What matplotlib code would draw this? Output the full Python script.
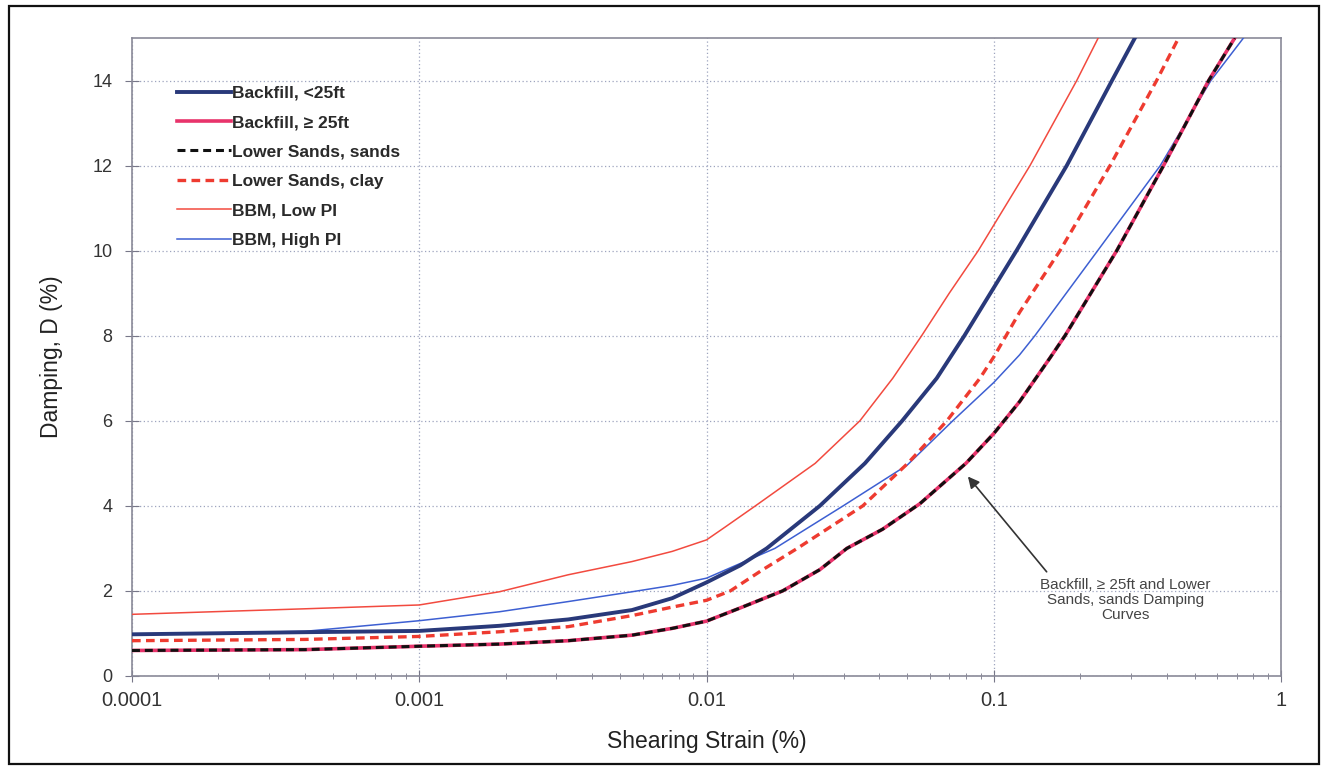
import matplotlib
matplotlib.use("Agg")
import matplotlib.pyplot as plt
from matplotlib.lines import Line2D
from matplotlib.patches import Rectangle
from matplotlib.ticker import LogLocator, NullFormatter, FixedLocator, FixedFormatter

plt.rcParams['font.family'] = ['Liberation Sans', 'DejaVu Sans']

# ---- data (shearing strain %, damping %) ----
navy_x = [0.0001, 0.0004, 0.001, 0.0019, 0.0033, 0.0055, 0.0076, 0.01, 0.0131, 0.0162,
          0.0248, 0.0356, 0.048, 0.0633, 0.079, 0.12, 0.1795, 0.258, 0.31]
navy_y = [0.98, 1.03, 1.06, 1.18, 1.33, 1.55, 1.83, 2.2, 2.6, 3.0,
          4.0, 5.0, 6.0, 7.0, 8.0, 10.0, 12.0, 14.0, 15.0]

sands_x = [0.0001, 0.0004, 0.001, 0.0019, 0.0033, 0.0055, 0.0076, 0.01, 0.0131, 0.0184,
           0.0248, 0.0308, 0.041, 0.0553, 0.08, 0.1, 0.123, 0.157, 0.177, 0.268, 0.39, 0.56, 0.69]
sands_y = [0.60, 0.62, 0.70, 0.75, 0.83, 0.96, 1.12, 1.29, 1.6, 2.0,
           2.5, 3.0, 3.45, 4.05, 5.0, 5.7, 6.45, 7.48, 8.0, 10.0, 12.0, 14.0, 15.0]

clay_x = [0.0001, 0.0004, 0.001, 0.0019, 0.0033, 0.0055, 0.0076, 0.01, 0.0121, 0.0157,
          0.0207, 0.035, 0.0502, 0.0687, 0.0895, 0.1, 0.123, 0.17, 0.254, 0.369, 0.44]
clay_y = [0.83, 0.86, 0.93, 1.04, 1.16, 1.42, 1.62, 1.78, 2.0, 2.5,
          3.0, 4.0, 5.0, 6.0, 7.0, 7.5, 8.55, 10.0, 12.0, 14.0, 15.0]

lowpi_x = [0.0001, 0.0004, 0.001, 0.0019, 0.0033, 0.0055, 0.0076, 0.01, 0.0116, 0.0148,
           0.0239, 0.0342, 0.0445, 0.0561, 0.07, 0.0883, 0.1337, 0.1945, 0.231]
lowpi_y = [1.45, 1.58, 1.67, 1.98, 2.38, 2.69, 2.93, 3.2, 3.5, 4.0,
           5.0, 6.0, 7.0, 8.0, 9.0, 10.0, 12.0, 14.0, 15.0]

highpi_x = [0.0001, 0.0004, 0.001, 0.0019, 0.0033, 0.0055, 0.0076, 0.01, 0.0173, 0.0299,
            0.05, 0.072, 0.1, 0.123, 0.139, 0.23, 0.38, 0.57, 0.74]
highpi_y = [0.98, 1.05, 1.30, 1.51, 1.75, 1.98, 2.13, 2.3, 3.0, 4.0,
            4.96, 6.0, 6.9, 7.55, 8.0, 10.0, 12.0, 14.0, 15.0]

x_ticks = [0.0001, 0.001, 0.01, 0.1, 1]
x_ticklabels = ['0.0001', '0.001', '0.01', '0.1', '1']
y_ticks = [0, 2, 4, 6, 8, 10, 12, 14]

labels = ['Backfill, <25ft', 'Backfill, \u2265 25ft', 'Lower Sands, sands',
          'Lower Sands, clay', 'BBM, Low PI', 'BBM, High PI']

note_text = 'Backfill, \u2265 25ft and Lower\nSands, sands Damping\nCurves'
note_xy = (0.288, 1.79)
arrow_tail = (0.1528, 2.45)
arrow_tip = (0.0813, 4.69)

# ---- figure ----
fig = plt.figure(figsize=(13.23, 7.72), dpi=100)
ax = fig.add_axes([132/1323, 1-676/772, (1281-132)/1323, (676-38)/772])

c_navy = '#29397a'
c_pink = '#e8336b'
c_black = '#111111'
c_rdash = '#ee3b30'
c_red = '#f24a3f'
c_blue = '#3d5fd2'

ax.plot(highpi_x, highpi_y, color=c_blue, lw=1.1, zorder=3)
ax.plot(lowpi_x, lowpi_y, color=c_red, lw=1.1, zorder=3)
ax.plot(clay_x, clay_y, color=c_rdash, lw=2.4, dashes=(2.6, 1.6), zorder=4)
ax.plot(sands_x, sands_y, color=c_pink, lw=2.6, zorder=4)
ax.plot(sands_x, sands_y, color=c_black, lw=2.2, dashes=(2.6, 1.6), zorder=5)
ax.plot(navy_x, navy_y, color=c_navy, lw=2.8, zorder=6)

ax.set_xscale('log')
ax.set_xlim(0.0001, 1)
ax.set_ylim(0, 15)

ax.xaxis.set_major_locator(FixedLocator(x_ticks))
ax.xaxis.set_major_formatter(FixedFormatter(x_ticklabels))
ax.xaxis.set_minor_locator(LogLocator(base=10, subs=range(2, 10), numticks=20))
ax.xaxis.set_minor_formatter(NullFormatter())
ax.set_yticks(y_ticks)

ax.grid(True, which='major', color='#9ea4bf', linestyle=(0, (1, 2)), lw=0.9)
for s in ax.spines.values():
    s.set_color('#8a8a98')
    s.set_linewidth(1.2)

ax.tick_params(axis='x', which='major', direction='inout', length=8, color='#777788',
               labelsize=14.5, labelcolor='#333333', pad=7)
ax.tick_params(axis='x', which='minor', direction='inout', length=4, color='#777788')
ax.tick_params(axis='y', which='major', direction='inout', length=10, color='#777788',
               labelsize=13, labelcolor='#333333', pad=9)

ax.set_xlabel('Shearing Strain (%)', fontsize=16.5, color='#222222', labelpad=14)
ax.set_ylabel('Damping, D (%)', fontsize=16.5, color='#222222', labelpad=21)

# legend
handles = [
    Line2D([], [], color=c_navy, lw=2.8),
    Line2D([], [], color=c_pink, lw=2.6),
    Line2D([], [], color=c_black, lw=2.2, dashes=(2.6, 1.6)),
    Line2D([], [], color=c_rdash, lw=2.4, dashes=(2.6, 1.6)),
    Line2D([], [], color=c_red, lw=1.1),
    Line2D([], [], color=c_blue, lw=1.1),
]
leg = ax.legend(handles, labels, loc='upper left', bbox_to_anchor=(0.026, 0.95),
                frameon=False, handlelength=3.1, handletextpad=0.05,
                labelspacing=0.82, prop={'size': 12.5, 'weight': 'bold'})
for t in leg.get_texts():
    t.set_color('#2a2a2a')

# annotation
ax.text(note_xy[0], note_xy[1], note_text, ha='center', va='center', fontsize=11,
        color='#444444', multialignment='center', linespacing=1.1, zorder=7)
ax.annotate('', xy=arrow_tip, xytext=arrow_tail,
            arrowprops=dict(arrowstyle='-|>', color='#333333', lw=1.2,
                            mutation_scale=17, shrinkA=0, shrinkB=0),
            zorder=7)

# outer frame
fig.patches.append(Rectangle((9/1323, 8/772), (1319-9)/1323, (766-8)/772,
                             transform=fig.transFigure, fill=False,
                             edgecolor='#111111', lw=1.6))

fig.savefig('out.png', dpi=100)
